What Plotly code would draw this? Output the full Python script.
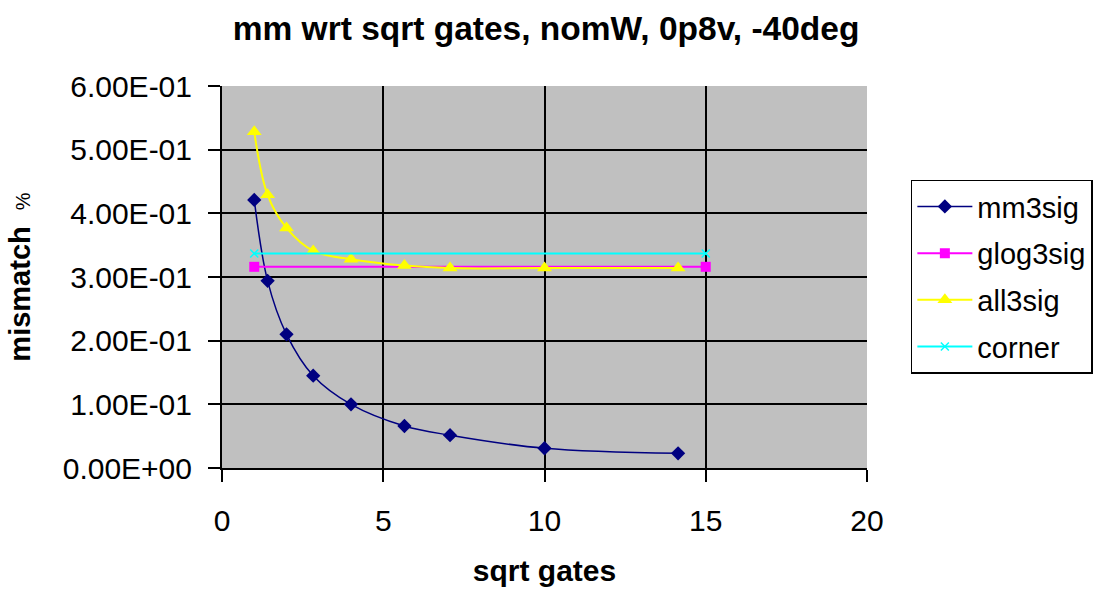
import plotly.graph_objects as go

# data
x_pts = [1, 1.414, 2, 2.828, 4, 5.657, 7.071, 10, 14.142]
mm3sig = [0.421, 0.294, 0.210, 0.145, 0.100, 0.066, 0.0515, 0.031, 0.023]
all3sig = [0.528, 0.429, 0.377, 0.341, 0.328, 0.318, 0.314, 0.314, 0.314]
glog_x = [1, 15]
glog3sig = [0.316, 0.316]
corner_x = [1, 15]
corner = [0.337, 0.337]

y_tickvals = [0, 0.1, 0.2, 0.3, 0.4, 0.5, 0.6]
y_ticktext = ["0.00E+00", "1.00E-01", "2.00E-01", "3.00E-01", "4.00E-01", "5.00E-01", "6.00E-01"]
x_tickvals = [0, 5, 10, 15, 20]

FONT = "Liberation Sans, Arial, sans-serif"

fig = go.Figure()
fig.add_trace(go.Scatter(x=x_pts, y=mm3sig, name="mm3sig", mode="lines+markers",
                         line=dict(color="#000080", width=1.5, shape="spline"),
                         marker=dict(symbol="diamond", size=11, color="#000080"),
                         legendgroup="a"))
fig.add_trace(go.Scatter(x=glog_x, y=glog3sig, name="glog3sig", mode="lines+markers",
                         line=dict(color="#ff00ff", width=2),
                         marker=dict(symbol="square", size=10, color="#ff00ff"),
                         legendgroup="b"))
fig.add_trace(go.Scatter(x=x_pts, y=all3sig, name="all3sig", mode="lines+markers",
                         line=dict(color="#ffff00", width=2, shape="spline"),
                         marker=dict(symbol="triangle-up", size=13, color="#ffff00"),
                         legendgroup="c"))
fig.add_trace(go.Scatter(x=corner_x, y=corner, name="corner", mode="lines+markers",
                         line=dict(color="#00ffff", width=2),
                         marker=dict(symbol="x-thin", size=8, color="#00ffff",
                                     line=dict(color="#00ffff", width=1.5)),
                         legendgroup="d"))

fig.update_layout(
    width=1111, height=589,
    margin=dict(l=222, r=244, t=86, b=121, autoexpand=False),
    paper_bgcolor="white",
    plot_bgcolor="#c0c0c0",
    font=dict(family=FONT, size=30, color="black"),
    title=dict(text="<b>mm wrt sqrt gates, nomW, 0p8v, -40deg</b>",
               x=0.4915, xanchor="center", y=0.952, yanchor="middle",
               font=dict(family=FONT, size=33.5, color="black")),
    showlegend=True,
    legend=dict(x=1.068, y=0.755, xanchor="left", yanchor="top",
                bordercolor="black", borderwidth=1.5, bgcolor="white",
                font=dict(family=FONT, size=29),
                traceorder="grouped", tracegroupgap=6, itemwidth=55),
)
fig.update_xaxes(range=[0, 20], tickvals=x_tickvals, showgrid=True, gridcolor="black",
                 gridwidth=2, zeroline=False, showline=True, linecolor="black", linewidth=2,
                 ticks="outside", ticklen=12, tickcolor="black", tickwidth=2,
                 ticklabelstandoff=13,
                 tickfont=dict(size=30), automargin=False,
                 title=dict(text="<b>sqrt gates</b>", standoff=24, font=dict(size=30)))
fig.update_yaxes(range=[0, 0.6], tickvals=y_tickvals, ticktext=y_ticktext, showgrid=True,
                 gridcolor="black", gridwidth=2, zeroline=False, showline=True,
                 linecolor="black", linewidth=2, ticks="outside", ticklen=12,
                 tickcolor="black", tickwidth=2, ticklabelstandoff=10,
                 tickfont=dict(size=30), automargin=False,
                 title=dict(text="<b>mismatch</b>&nbsp;&nbsp;<span style='font-size:20px'>%</span>",
                            standoff=24, font=dict(size=29)))

fig.write_html("out.html")
